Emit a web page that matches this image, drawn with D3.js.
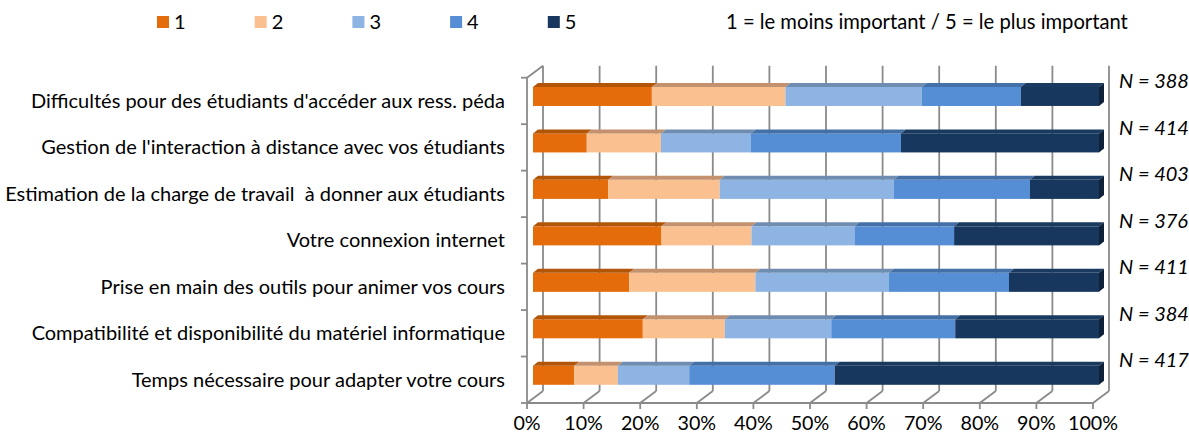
<!DOCTYPE html>
<html>
<head>
<meta charset="utf-8">
<title>Difficultés</title>
<script src="https://cdn.jsdelivr.net/npm/d3@7"></script>
<style>
  body { margin: 0; background: #fff; }
  svg text { font-family: Lato, "Open Sans", sans-serif; fill: #000; white-space: pre; }
  .grid { stroke: #8a8a8a; stroke-width: 1.8; fill: none; }
</style>
</head>
<body>
<script>
// data (percent of answers per level)
var categories = [
  "Difficultés pour des étudiants d'accéder aux ress. péda",
  "Gestion de l'interaction à distance avec vos étudiants",
  "Estimation de la charge de travail  à donner aux étudiants",
  "Votre connexion internet",
  "Prise en main des outils pour animer vos cours",
  "Compatibilité et disponibilité du matériel informatique",
  "Temps nécessaire pour adapter votre cours"
];
var nCounts = [388, 414, 403, 376, 411, 384, 417];
var level1 = [21.0, 9.5, 13.3, 22.7, 17.0, 19.4, 7.3];
var level2 = [23.6, 13.1, 19.7, 15.9, 22.3, 14.5, 7.7];
var level3 = [24.1, 15.9, 30.7, 18.2, 23.6, 18.8, 12.6];
var level4 = [17.5, 26.5, 24.1, 17.6, 21.2, 21.9, 25.7];
var level5 = [13.8, 35.0, 12.2, 25.6, 15.9, 25.4, 46.7];
var levels = ["1", "2", "3", "4", "5"];
var xTicks = [0, 10, 20, 30, 40, 50, 60, 70, 80, 90, 100];
var note = "1 = le moins important / 5 = le plus important";

var front = ["#E46C0A", "#FAC090", "#8DB4E2", "#558ED5", "#17375E"];
var top_ = ["#B35507", "#C3916D", "#6F8CB1", "#4470A8", "#1B3A60"];
var side = "#0E2138";

var width = 1189, height = 437;
var svg = d3.select("body").append("svg")
  .attr("width", width).attr("height", height);

// table for d3.stack
var rows = categories.map(function (c, i) {
  return { cat: c, "1": level1[i], "2": level2[i], "3": level3[i], "4": level4[i], "5": level5[i] };
});
var stacked = d3.stack().keys(levels)(rows);

var x = d3.scaleLinear().domain([0, 100]).range([527, 1093]);
var y = d3.scaleBand().domain(categories).range([77.7, 403])
  .paddingInner(0.59).paddingOuter(0.295);
var step = y.step();

// depth of the 3d box and of the bars
var dX = 16, dY = -12;
var bfX = 6, bfY = -4.5;   // bar front face offset
var bdX = 5, bdY = -4;     // bar thickness

var floorY = 403, wallTop = 77.7;

// back wall grid lines
svg.append("g").selectAll("line").data(xTicks).enter().append("line")
  .attr("class", "grid")
  .attr("x1", function (d) { return x(d) + dX; })
  .attr("x2", function (d) { return x(d) + dX; })
  .attr("y1", wallTop + dY)
  .attr("y2", floorY + dY);

// floor diagonals + tick marks
svg.append("g").selectAll("path").data(xTicks).enter().append("path")
  .attr("class", "grid")
  .attr("d", function (d) {
    return "M" + x(d) + "," + (floorY + 6) + "V" + floorY + "l" + dX + "," + dY;
  });
svg.append("line").attr("class", "grid")
  .attr("x1", x(0)).attr("x2", x(100)).attr("y1", floorY).attr("y2", floorY);

// left wall
svg.append("path").attr("class", "grid")
  .attr("d", "M" + x(0) + "," + floorY + "V" + wallTop + "l" + dX + "," + dY);
var bounds = d3.range(categories.length + 1).map(function (i) { return 77.7 + i * step; });
svg.append("g").selectAll("line").data(bounds).enter().append("line")
  .attr("class", "grid")
  .attr("x1", x(0) - 6).attr("x2", x(0))
  .attr("y1", function (d) { return d; }).attr("y2", function (d) { return d; });

// bars
var bh = y.bandwidth();

stacked.forEach(function (layer, k) {
  var g = svg.append("g");
  layer.forEach(function (d) {
    var x0 = x(d[0]) + bfX, x1 = x(d[1]) + bfX;
    var yt = y(d.data.cat) + bfY;
    g.append("rect")
      .attr("x", x0).attr("y", yt)
      .attr("width", x1 - x0).attr("height", bh)
      .attr("fill", front[k]);
    g.append("path")
      .attr("d", "M" + x0 + "," + yt + "l" + bdX + "," + bdY + "H" + (x1 + bdX) + "l" + (-bdX) + "," + (-bdY) + "Z")
      .attr("fill", top_[k]);
    if (k === levels.length - 1) {
      g.append("path")
        .attr("d", "M" + x1 + "," + yt + "l" + bdX + "," + bdY + "v" + bh + "l" + (-bdX) + "," + (-bdY) + "Z")
        .attr("fill", side);
    }
  });
});

// category labels
svg.append("g").selectAll("text").data(categories).enter().append("text")
  .attr("x", 505)
  .attr("y", function (d) { return y(d) + bh / 2; })
  .attr("dy", "0.35em")
  .attr("text-anchor", "end")
  .style("font-size", "20px")
  .text(function (d) { return d; });

// N labels
svg.append("g").selectAll("text").data(nCounts).enter().append("text")
  .attr("x", 1119)
  .attr("y", function (d, i) { return y(categories[i]) + bh / 2 - 19.5; })
  .attr("dy", "0.35em")
  .style("font-size", "20px")
  .style("font-style", "italic")
  .text(function (d) { return "N = " + d; });

// x tick labels
svg.append("g").selectAll("text").data(xTicks).enter().append("text")
  .attr("x", function (d) { return x(d); })
  .attr("y", 423)
  .attr("dy", "0.35em")
  .attr("text-anchor", "middle")
  .style("font-size", "19.7px")
  .text(function (d) { return d + "%"; });

// legend
var leg = svg.append("g").selectAll("g").data(levels).enter().append("g")
  .attr("transform", function (d, i) { return "translate(" + (157 + i * 97.7) + ",16)"; });
leg.append("rect").attr("width", 12).attr("height", 12)
  .attr("fill", function (d, i) { return front[i]; });
leg.append("text").attr("x", 17).attr("y", 6).attr("dy", "0.35em")
  .style("font-size", "20px")
  .text(function (d) { return d; });

svg.append("text")
  .attr("x", 726).attr("y", 22).attr("dy", "0.35em")
  .style("font-size", "20.2px")
  .text(note);
</script>
</body>
</html>
